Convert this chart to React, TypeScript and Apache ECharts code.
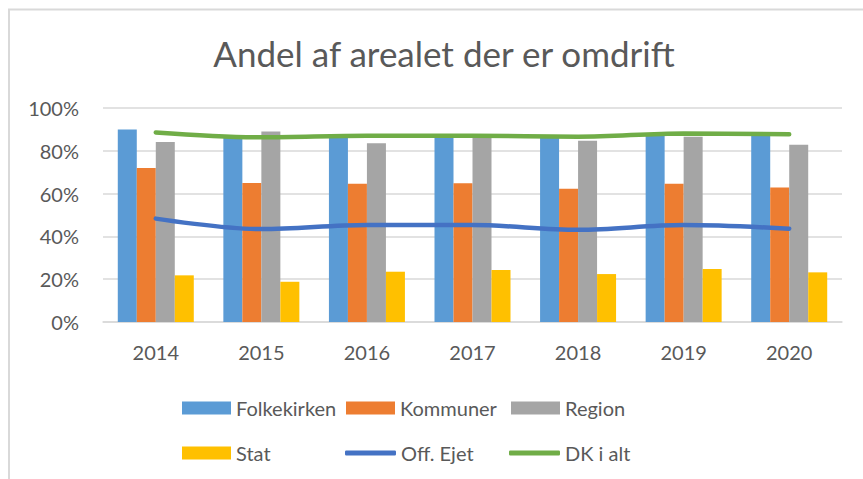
import React, { useEffect, useRef } from "react";
import * as echarts from "echarts";

const categories = ["2014", "2015", "2016", "2017", "2018", "2019", "2020"];
const folkekirken = [90, 86.5, 87, 87, 86.5, 88, 87.5];
const kommuner = [72, 65, 64.6, 64.8, 62.3, 64.6, 62.9];
const region = [84.1, 89, 83.5, 86.8, 84.7, 86.6, 82.8];
const stat = [21.8, 18.8, 23.5, 24.3, 22.4, 24.8, 23.2];
const offEjet = [48.3, 43.4, 45.3, 45.3, 43.1, 45.3, 43.6];
const dkIAlt = [88.6, 86.3, 87, 87, 86.6, 88.1, 87.7];
const yTicks = { min: 0, max: 100, interval: 20 };
const titleText = "Andel af arealet der er omdrift";

const FONT = "Lato, 'Open Sans', sans-serif";
const TEXT = "#595959";

export default function App() {
  const ref = useRef<HTMLDivElement>(null);
  useEffect(() => {
    if (!ref.current) return;
    const chart = echarts.init(ref.current, undefined, { renderer: "svg" });
    const barSeries = (name: string, data: number[], color: string) => ({
      name,
      type: "bar",
      data,
      barWidth: 19,
      barGap: "0%",
      itemStyle: { color },
    });
    const lineSeries = (name: string, data: number[], color: string) => ({
      name,
      type: "line",
      data,
      symbol: "none",
      smooth: 0.35,
      lineStyle: { color, width: 4.5, cap: "round" },
      itemStyle: { color },
    });
    const legend = (name: string, left: number, top: number, isLine: boolean) => ({
      data: [{ name, icon: isLine ? "roundRect" : "rect" }],
      left,
      top,
      padding: 0,
      itemWidth: isLine ? 51 : 49,
      itemHeight: isLine ? 5 : 13,
      selectedMode: false,
      textStyle: { color: TEXT, fontSize: 20, fontFamily: FONT, lineHeight: 20 },
    });
    chart.setOption({
      animation: false,
      backgroundColor: "#fff",
      title: {
        text: titleText,
        left: 439,
        top: 30,
        textAlign: "center",
        textStyle: { color: TEXT, fontSize: 35, fontWeight: "normal", fontFamily: FONT },
      },
      graphic: [
        {
          type: "rect",
          shape: { x: 9, y: 9.5, width: 900, height: 500 },
          style: { fill: "none", stroke: "#D9D9D9", lineWidth: 2 },
          silent: true,
        },
      ],
      grid: { left: 103, right: 21, top: 108, bottom: 157, containLabel: false },
      xAxis: {
        type: "category",
        data: categories,
        axisTick: { show: false },
        axisLine: { show: true, lineStyle: { color: "#D9D9D9", width: 1.5 } },
        axisLabel: { color: TEXT, fontSize: 20, fontFamily: FONT, margin: 20 },
      },
      yAxis: {
        type: "value",
        min: yTicks.min,
        max: yTicks.max,
        interval: yTicks.interval,
        axisLine: { show: false },
        axisTick: { show: false },
        splitLine: { lineStyle: { color: "#D9D9D9", width: 1.5 } },
        axisLabel: { color: TEXT, fontSize: 20, fontFamily: FONT, margin: 24, formatter: "{value}%" },
      },
      legend: [
        legend("Folkekirken", 182, 398, false),
        legend("Kommuner", 346, 398, false),
        legend("Region", 511, 398, false),
        legend("Stat", 182, 443, false),
        legend("Off. Ejet", 345, 443, true),
        legend("DK i alt", 509, 443, true),
      ],
      series: [
        barSeries("Folkekirken", folkekirken, "#5B9BD5"),
        barSeries("Kommuner", kommuner, "#ED7D31"),
        barSeries("Region", region, "#A5A5A5"),
        barSeries("Stat", stat, "#FFC000"),
        lineSeries("Off. Ejet", offEjet, "#4472C4"),
        lineSeries("DK i alt", dkIAlt, "#70AD47"),
      ],
    });
    return () => chart.dispose();
  }, []);
  return (
    <div
      ref={ref}
      style={{ position: "fixed", left: 0, top: 0, width: 863, height: 479 }}
    />
  );
}
